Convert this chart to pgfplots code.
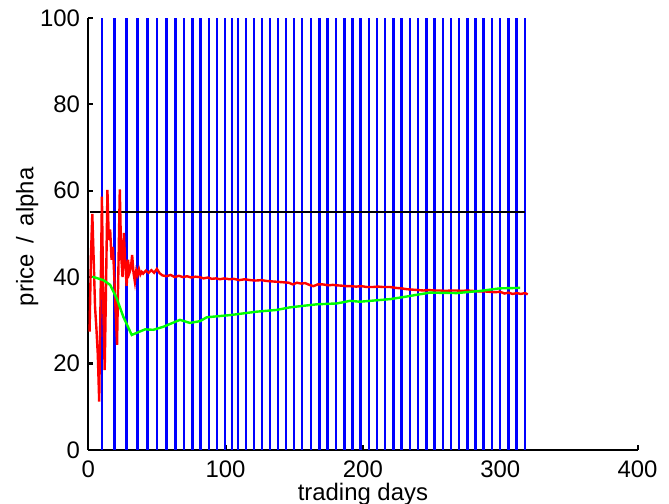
\documentclass[border=0pt]{standalone}
\usepackage{fontspec}
\setmainfont{Liberation Sans}
\usepackage{pgfplots}
\pgfplotsset{compat=1.18}
\begin{document}
\fontsize{24}{28}\selectfont
\begin{tikzpicture}
\path[use as bounding box] (-88.2bp,-54.1bp) rectangle (580.8bp,449.9bp);
\begin{axis}[
  at={(0,0)}, anchor=south west,
  width=549.4bp, height=432bp, scale only axis,
  xmin=0, xmax=400, ymin=0, ymax=100,
  axis x line*=bottom, axis y line*=left,
  tick align=inside,
  xtick={0,100,200,300,400}, ytick={0,20,40,60,80,100},
  major tick length=5bp,
  axis line style={line width=2.2bp, black},
  every tick/.style={black, line width=2.2bp},
  xticklabel style={yshift=-3bp},
  /pgf/number format/assume math mode=true,
  every axis y label/.style={at={(axis description cs:0,0.5)}, xshift=-61bp, yshift=-3bp, rotate=90, anchor=center},
  every axis x label/.style={at={(axis description cs:0.5,0)}, yshift=-44bp, anchor=center},
  xlabel={trading days}, ylabel={price\hspace{0.45em}/\hspace{0.45em}alpha},
]
\addplot[blue, line width=2.6bp, ycomb, no markers] coordinates {
(10.0,100)(19.3,100)(28.0,100)(36.0,100)(43.3,100)(50.1,100)(56.9,100)(63.4,100)(69.8,100)(75.8,100)
(81.9,100)(88.0,100)(93.8,100)(99.6,100)(104.7,100)(109.1,100)(114.9,100)(120.7,100)(126.6,100)(132.4,100)
(138.2,100)(144.0,100)(149.8,100)(155.7,100)(162.2,100)(168.3,100)(174.1,100)(180.5,100)(186.5,100)(192.6,100)
(198.4,100)(204.4,100)(210.3,100)(216.1,100)(222.1,100)(228.3,100)(234.3,100)(240.1,100)(246.2,100)(252.3,100)
(258.2,100)(264.2,100)(270.0,100)(276.0,100)(281.8,100)(288.0,100)(294.0,100)(299.9,100)(305.9,100)(311.8,100)
(317.9,100)};
\addplot[black, line width=2.4bp, no markers] coordinates {(1,55)(318,55)};
\addplot[red, line width=2.4bp, no markers] coordinates {
(1,27.4)(2,45)(3,54.6)(4,44)(5,33)(6,28)(7,22)(8,11.2)(9,35)(10,58.6)(11,33)(12,18.5)(13,38)(14,60.2)
(15,48.6)(16,51)(17,44)(18,47)(19,40)(20,32)(21,24.3)(22,42)(23,60.3)(24,45)(25,40)(26,50.2)(27,43)
(28,38)(29,44)(30,41)(31,42)(32,45.1)(33,41)(34,38.9)(35,41.5)(36,40.5)(37,41.8)(38,40.6)(39,41.2)(40,40.8)
(42,41.5)(44,41.0)(46,41.6)(48,41.0)(50,41.9)(52,40.9)(54,40.4)(57,40.2)(60,40.5)(63,40.0)(66,40.3)(69,40.0)
(72,40.2)(75,39.9)(78,40.1)(81,40.0)(84,39.7)(87,39.9)(90,39.6)(93,39.7)(96,39.5)(99,39.7)(103,39.5)(106,39.6)
(110,39.3)(114,39.5)(118,39.3)(122,39.2)(126,39.3)(130,39.1)(134,39.0)(138,38.9)(142,38.8)(146,38.7)(149,38.3)
(152,38.7)(155,38.5)(158,38.6)(161,38.2)(164,37.9)(167,38.3)(171,38.3)(175,38.1)(178,38.2)(181,38.1)(185,38.0)
(188,37.9)(191,37.9)(195,37.8)(199,37.9)(203,37.7)(207,37.7)(211,37.8)(215,37.7)(220,37.7)(224,37.5)(228,37.4)
(232,37.2)(236,37.1)(240,37.0)(244,36.9)(248,37.0)(252,36.9)(256,36.9)(260,36.8)(264,36.9)(268,36.9)(272,36.8)
(276,36.9)(280,36.8)(284,36.7)(288,36.7)(292,36.6)(296,36.5)(300,36.6)(303,36.2)(306,36.4)(309,36.1)(312,36.3)
(315,36.1)(318,36.3)(320,36.0)};
\addplot[green, line width=2.4bp, no markers] coordinates {
(3,40.1)(11,39.3)(16,38.2)(20.7,35.1)(25.6,30.8)(31.7,26.6)(35.3,27.1)(41.4,27.9)(47.4,27.8)(54.7,28.5)
(66.8,30.1)(74,29.4)(81.4,29.8)(86.3,30.7)(103.2,31.2)(122.7,32.0)(137.2,32.4)(147,33.0)(166.4,33.7)(181,33.9)
(190.6,34.5)(197.9,34.3)(219.7,34.9)(231.9,35.5)(239,35.9)(248.9,36.4)(268.3,36.3)(285.3,36.8)(299.9,37.4)(314.5,37.5)};
\end{axis}
\end{tikzpicture}
\end{document}
